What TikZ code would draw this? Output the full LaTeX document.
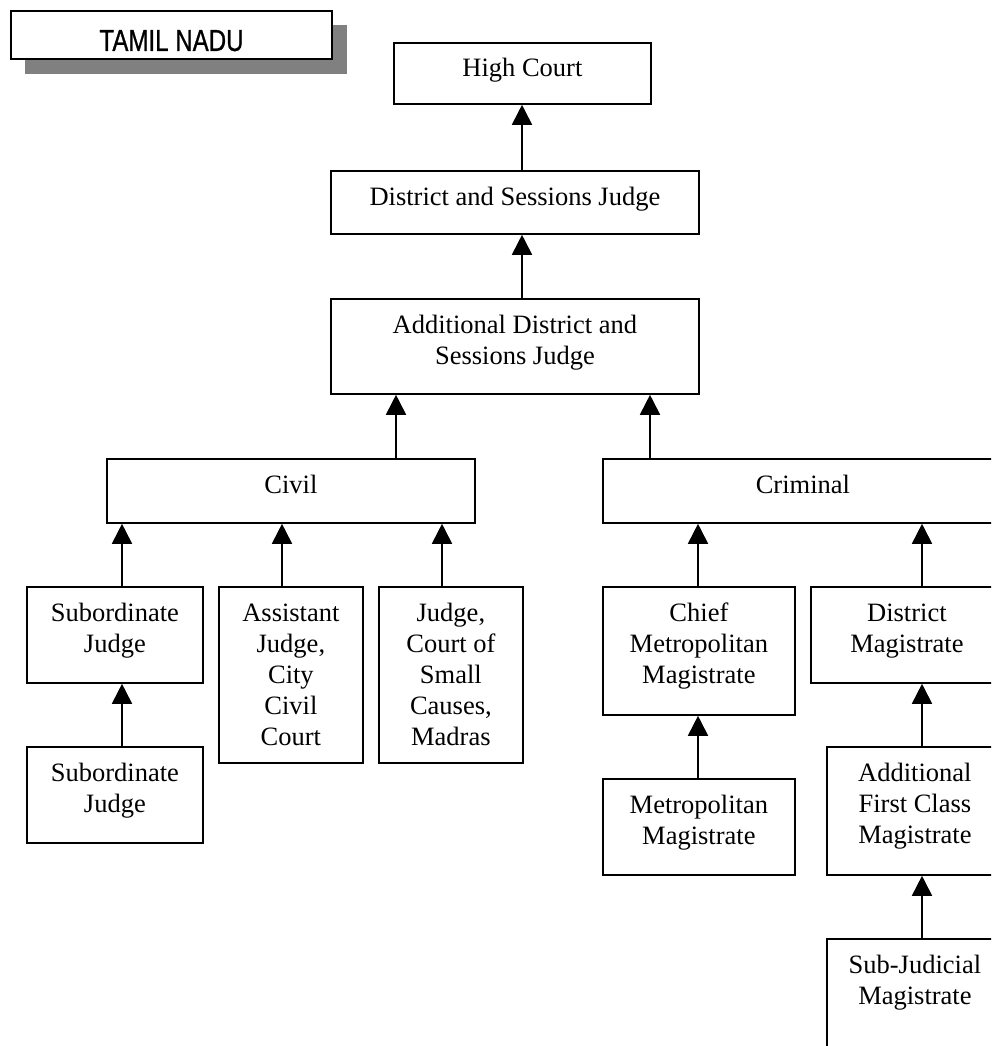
\documentclass[tikz,border=0pt]{standalone}
\usepackage{fontspec}
\setmainfont{Liberation Serif}
\newfontfamily\headsans[FakeStretch=0.79,FakeBold=0.8]{Liberation Sans}
\usetikzlibrary{arrows.meta}

% centred multi-line text whose baseline is that of its first line
\newcommand\stack[1]{\begin{tabular}[t]{@{}c@{}}#1\end{tabular}}

\begin{document}
\begin{tikzpicture}[x=1pt,y=-1pt,
  box/.style={draw, line width=1.8pt, fill=white, inner sep=0pt, anchor=north west},
  lbl/.style={anchor=base, inner sep=0pt, font=\fontsize{26.5}{31}\selectfont},
  arr/.style={line width=1.8pt, -{Triangle[width=20pt,length=20pt]}}]
\useasboundingbox (0,0) rectangle (991,1046);
\clip (0,0) rectangle (991,1046);

% state heading with drop shadow
\node[fill={rgb,255:red,128;green,128;blue,128}, inner sep=0pt, anchor=north west,
      minimum width=322pt, minimum height=49pt] (tnshadow) at (25,25) {};
\node[box, line width=2pt, minimum width=321pt, minimum height=48pt] (tn) at (10,10) {};
\node[anchor=base, inner sep=0pt, font=\headsans\fontsize{30.5}{36}\selectfont]
  at ([yshift=-41pt]tn.north) {TAMIL NADU};

% court boxes (left, top; width, height)
\node[box, minimum width=257pt, minimum height=61pt]  (hc)    at (393,42)  {};
\node[box, minimum width=368pt, minimum height=63pt]  (dsj)   at (330,170) {};
\node[box, minimum width=368pt, minimum height=95pt]  (adsj)  at (330,298) {};
\node[box, minimum width=368pt, minimum height=64pt]  (civil) at (106,458) {};
\node[box, minimum width=400pt, minimum height=64pt]  (crim)  at (602,458) {};
\node[box, minimum width=176pt, minimum height=96pt]  (sj1)   at (26,586)  {};
\node[box, minimum width=144pt, minimum height=176pt] (asst)  at (218,586) {};
\node[box, minimum width=144pt, minimum height=176pt] (jcsc)  at (378,586) {};
\node[box, minimum width=176pt, minimum height=96pt]  (sj2)   at (26,746)  {};
\node[box, minimum width=192pt, minimum height=128pt] (cmm)   at (602,586) {};
\node[box, minimum width=192pt, minimum height=96pt]  (dm)    at (810,586) {};
\node[box, minimum width=192pt, minimum height=96pt]  (mm)    at (602,778) {};
\node[box, minimum width=176pt, minimum height=128pt] (afcm)  at (826,746) {};
\node[box, minimum width=176pt, minimum height=128pt] (sjm)   at (826,938) {};

% box texts, first baseline 35.5pt below the top edge
\node[lbl] at ([yshift=-35pt]hc.north)      {High Court};
\node[lbl] at ([yshift=-35pt]dsj.north)     {District and Sessions Judge};
\node[lbl] at ([yshift=-35.5pt]adsj.north)  {\stack{Additional District and\\Sessions Judge}};
\node[lbl] at ([yshift=-35pt]civil.north)   {Civil};
\node[lbl] at ([yshift=-35pt]crim.north)    {Criminal};
\node[lbl] at ([yshift=-35.5pt]sj1.north)   {\stack{Subordinate\\Judge}};
\node[lbl] at ([yshift=-35.5pt]asst.north)  {\stack{Assistant\\Judge,\\City\\Civil\\Court}};
\node[lbl] at ([yshift=-35.5pt]jcsc.north)  {\stack{Judge,\\Court of\\Small\\Causes,\\Madras}};
\node[lbl] at ([yshift=-35.5pt]sj2.north)   {\stack{Subordinate\\Judge}};
\node[lbl] at ([yshift=-35.5pt]cmm.north)   {\stack{Chief\\Metropolitan\\Magistrate}};
\node[lbl] at ([yshift=-35.5pt]dm.north)    {\stack{District\\Magistrate}};
\node[lbl] at ([yshift=-35.5pt]mm.north)    {\stack{Metropolitan\\Magistrate}};
\node[lbl] at ([yshift=-35.5pt]afcm.north)  {\stack{Additional\\First Class\\Magistrate}};
\node[lbl] at ([yshift=-35pt]sjm.north)     {\stack{Sub-Judicial\\Magistrate}};

% connector columns
\coordinate (c122) at (122,0);
\coordinate (c282) at (282,0);
\coordinate (c442) at (442,0);
\coordinate (c396) at (396,0);
\coordinate (c522) at (522,0);
\coordinate (c650) at (650,0);
\coordinate (c698) at (698,0);
\coordinate (c922) at (922,0);

% appeals run upwards
\draw[arr] (dsj.north -| c522)   -- (hc.south -| c522);
\draw[arr] (adsj.north -| c522)  -- (dsj.south -| c522);
\draw[arr] (civil.north -| c396) -- (adsj.south -| c396);
\draw[arr] (crim.north -| c650)  -- (adsj.south -| c650);
\draw[arr] (sj1.north -| c122)   -- (civil.south -| c122);
\draw[arr] (asst.north -| c282)  -- (civil.south -| c282);
\draw[arr] (jcsc.north -| c442)  -- (civil.south -| c442);
\draw[arr] (sj2.north -| c122)   -- (sj1.south -| c122);
\draw[arr] (cmm.north -| c698)   -- (crim.south -| c698);
\draw[arr] (dm.north -| c922)    -- (crim.south -| c922);
\draw[arr] (mm.north -| c698)    -- (cmm.south -| c698);
\draw[arr] (afcm.north -| c922)  -- (dm.south -| c922);
\draw[arr] (sjm.north -| c922)   -- (afcm.south -| c922);
\end{tikzpicture}
\end{document}
